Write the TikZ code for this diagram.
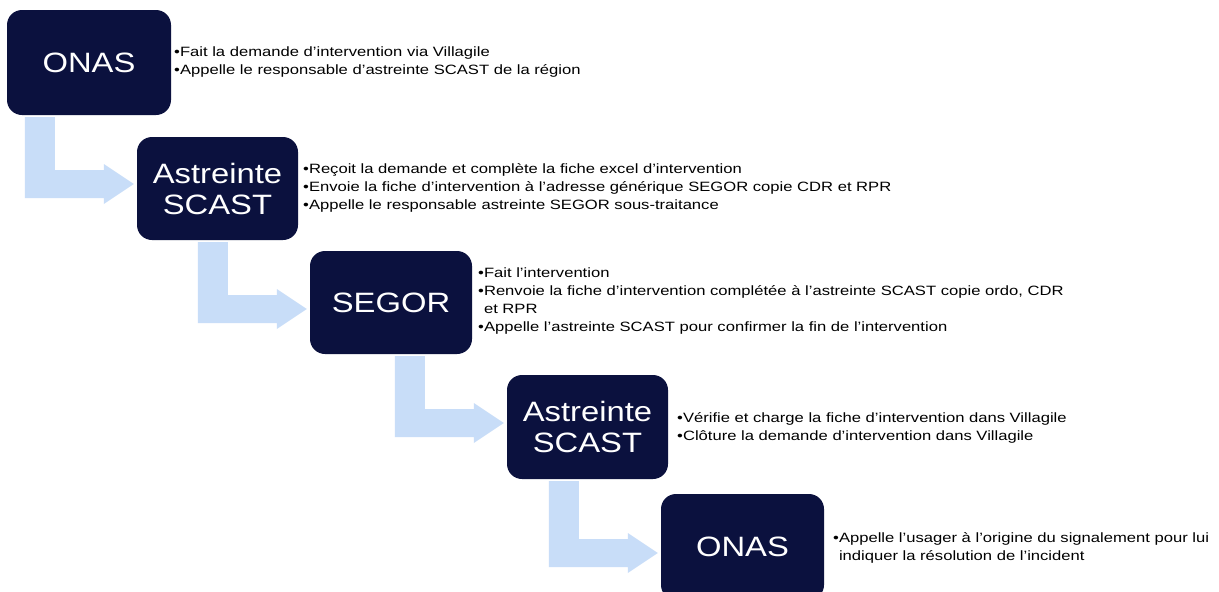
\documentclass[tikz,border=0pt]{standalone}
\usepackage{graphicx}
\usepackage{fontspec}
\setmainfont{Liberation Sans}
\usetikzlibrary{calc}
\definecolor{navy}{RGB}{11,17,62}
\definecolor{arrowblue}{RGB}{200,221,248}
\newcommand\hs[1]{\scalebox{1.17}[1]{#1}}
\newcommand\hb[1]{\scalebox{1.23}[1]{#1}}
\newcommand\bentarrow[3]{%
  \fill[arrowblue] let \p1=(#1.south), \p3=($(#2.west)+(0,#3)$) in
    (\x3-112pt,\y1-2pt) -- (\x3-82pt,\y1-2pt) -- (\x3-82pt,\y3+14pt)
    -- (\x3-33pt,\y3+14pt) -- (\x3-33pt,\y3+20pt) -- (\x3-3pt,\y3)
    -- (\x3-33pt,\y3-20pt) -- (\x3-33pt,\y3-14pt) -- (\x3-112pt,\y3-14pt) -- cycle;}
\tikzset{
  box/.style={fill=navy, rounded corners=15pt, minimum width=162pt, minimum height=104pt,
    inner sep=0pt, text=white, font=\fontsize{28}{31}\selectfont, align=center},
  bul/.style={anchor=west, inner sep=0pt, align=left, text=black,
    font=\fontsize{13.5}{18}\selectfont}
}
\begin{document}
\begin{tikzpicture}[x=1pt,y=-1pt]
\useasboundingbox (0,0) rectangle (1219,592);
\fill[white] (0,0) rectangle (1219,592);
\clip (0,0) rectangle (1219,592);
% boxes
\node[box, minimum width=164pt, minimum height=105pt] (b1) at (89,62.5) {\hs{ONAS}};
\node[box, minimum width=161pt, minimum height=103pt] (b2) at (217.5,188.5) {\hs{Astreinte}\\\hs{SCAST}};
\node[box, minimum width=162pt, minimum height=103pt] (b3) at (391,302.5) {\hs{SEGOR}};
\node[box, minimum width=161pt, minimum height=104pt] (b4) at (587.5,427) {\hs{Astreinte}\\\hs{SCAST}};
\node[box, minimum width=163pt, minimum height=106pt] (b5) at (742.5,547) {\hs{ONAS}};
% texts
\node[bul] (t1) at (174,62) {\hb{•Fait la demande d’intervention via Villagile}\\
  \hb{•Appelle le responsable d’astreinte SCAST de la région}};
\node[bul] (t2) at (303,187.5) {\hb{•Reçoit la demande et complète la fiche excel d’intervention}\\
  \hb{•Envoie la fiche d’intervention à l’adresse générique SEGOR copie CDR et RPR}\\
  \hb{•Appelle le responsable astreinte SEGOR sous-traitance}};
\node[bul] (t3) at (478,301.5) {\hb{•Fait l’intervention}\\
  \hb{•Renvoie la fiche d’intervention complétée à l’astreinte SCAST copie ordo, CDR}\\
  \hb{\phantom{•}et RPR}\\
  \hb{•Appelle l’astreinte SCAST pour confirmer la fin de l’intervention}};
\node[bul] (t4) at (677,428) {\hb{•Vérifie et charge la fiche d’intervention dans Villagile}\\
  \hb{•Clôture la demande d’intervention dans Villagile}};
\node[bul] (t5) at (833,548) {\hb{•Appelle l’usager à l’origine du signalement pour lui}\\
  \hb{\phantom{•}indiquer la résolution de l’incident}};
% arrows
\bentarrow{b1}{b2}{-4.5}
\bentarrow{b2}{b3}{6.5}
\bentarrow{b3}{b4}{-4}
\bentarrow{b4}{b5}{6}
\end{tikzpicture}
\end{document}
